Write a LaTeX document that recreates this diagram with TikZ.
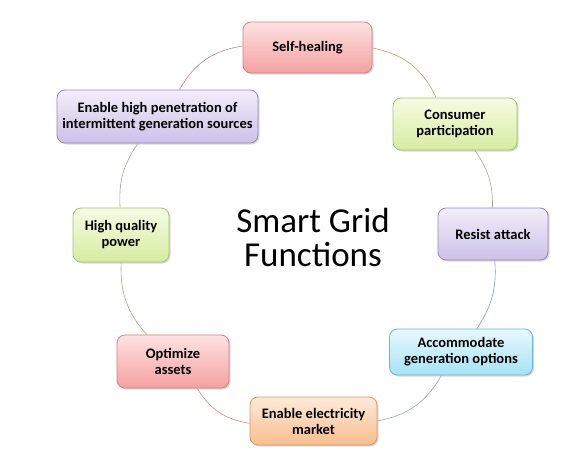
\documentclass[tikz,border=0pt]{standalone}
\usepackage{fontspec}
\setmainfont{Carlito}
\usetikzlibrary{shadows}
\definecolor{pinktop}{RGB}{253,226,226}
\definecolor{pinkbot}{RGB}{245,160,160}
\definecolor{pinkline}{RGB}{214,128,128}
\definecolor{greentop}{RGB}{246,251,228}
\definecolor{greenbot}{RGB}{214,236,160}
\definecolor{greenline}{RGB}{168,196,106}
\definecolor{purpletop}{RGB}{242,238,250}
\definecolor{purplebot}{RGB}{205,192,232}
\definecolor{purpleline}{RGB}{150,136,190}
\definecolor{bluetop}{RGB}{232,249,254}
\definecolor{bluebot}{RGB}{166,226,246}
\definecolor{blueline}{RGB}{104,182,212}
\definecolor{orangetop}{RGB}{253,234,218}
\definecolor{orangebot}{RGB}{249,190,142}
\definecolor{orangeline}{RGB}{222,152,92}

\begin{document}
\begin{tikzpicture}[x=1pt,y=-1pt,
    func/.style={draw, line width=0.8pt, rounded corners=8pt, align=center,
      font=\fontsize{14.5}{16}\selectfont\bfseries, inner sep=2pt,
      drop shadow={shadow xshift=1.5pt, shadow yshift=-1.5pt, opacity=0.3}},
    pinkbox/.style={func, draw=pinkline, top color=pinktop, bottom color=pinkbot},
    greenbox/.style={func, draw=greenline, top color=greentop, bottom color=greenbot},
    purplebox/.style={func, draw=purpleline, top color=purpletop, bottom color=purplebot},
    bluebox/.style={func, draw=blueline, top color=bluetop, bottom color=bluebot},
    orangebox/.style={func, draw=orangeline, top color=orangetop, bottom color=orangebot},
    link/.style={line width=0.6pt}]
    \fill[white] (0,0) rectangle (579,466);
    \useasboundingbox (0,0) rectangle (579,466);

    % Title
    \node[align=center, font=\fontsize{35}{34}\selectfont] (title) at (313,237) {Smart Grid\\Functions};

    % Functions round the circle
    \node[pinkbox, minimum width=129pt, minimum height=51pt] (heal) at (307.5,47.5) {Self-healing};
    \node[greenbox, minimum width=124pt, minimum height=52pt] (consumer) at (455,124) {Consumer\\participation};
    \node[purplebox, minimum width=110pt, minimum height=52pt] (resist) at (493,234) {Resist attack};
    \node[bluebox, minimum width=143pt, minimum height=46pt] (accommodate) at (461,352) {Accommodate\\generation options};
    \node[orangebox, minimum width=127pt, minimum height=48pt] (market) at (313.5,421) {Enable electricity\\market};
    \node[pinkbox, minimum width=112pt, minimum height=53pt] (optimize) at (173,361.5) {Optimize\\assets};
    \node[greenbox, minimum width=96pt, minimum height=54pt] (quality) at (121,235) {High quality\\power};
    \node[purplebox, minimum width=201pt, minimum height=53pt] (penetration) at (157.5,116.5) {Enable high penetration of\\intermittent generation sources};

    % Connectors
    \draw[link, draw=pinkline!55!greenline] (heal) to[bend left=27] (consumer);
    \draw[link, draw=greenline!55!purpleline] (consumer) to[bend left=18] (resist);
    \draw[link, draw=purpleline!55!blueline] (resist) to[bend left=19] (accommodate);
    \draw[link, draw=blueline!55!orangeline] (accommodate) to[bend left=25] (market);
    \draw[link, draw=orangeline!55!pinkline] (market) to[bend left=25] (optimize);
    \draw[link, draw=pinkline!55!greenline] (optimize) to[bend left=22] (quality);
    \draw[link, draw=greenline!55!purpleline] (quality) to[bend left=19] (penetration);
    \draw[link, draw=purpleline!55!pinkline] (penetration) to[bend left=26] (heal);
\end{tikzpicture}
\end{document}
